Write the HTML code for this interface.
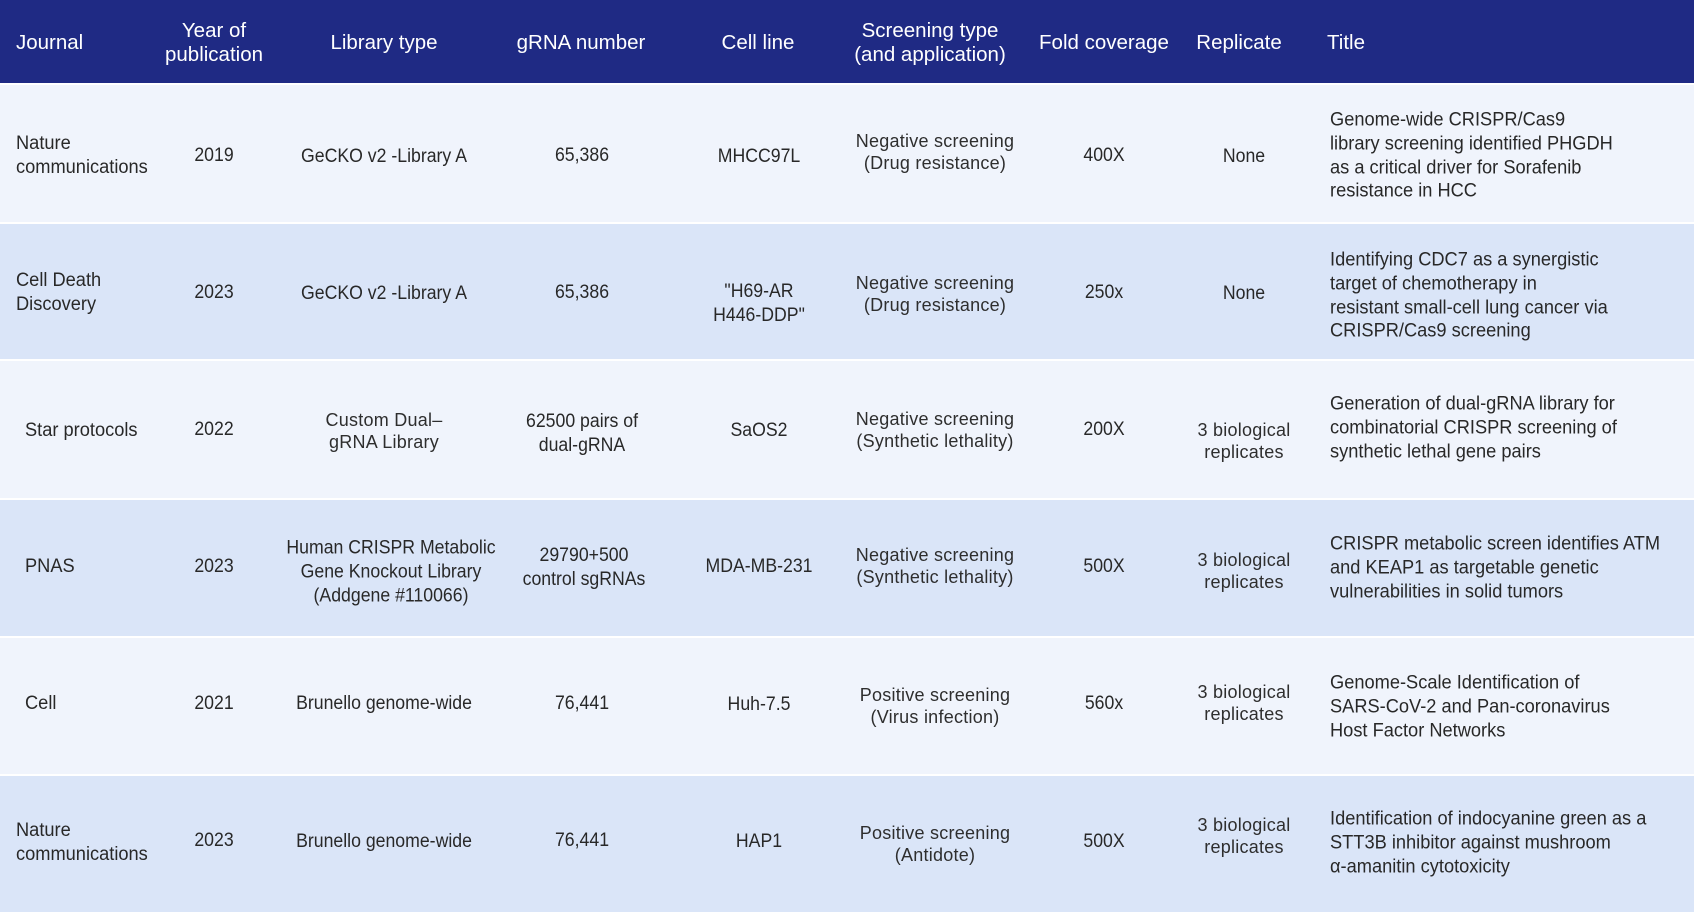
<!DOCTYPE html>
<html>
<head>
<meta charset="utf-8">
<style>
  html,body{margin:0;padding:0;background:#fff;}
  #wrap{position:relative;width:1694px;height:912px;overflow:hidden;background:#fff;font-family:"Liberation Sans",sans-serif;}
  .bg{position:absolute;left:0;width:1694px;}
  .hd{background:#1f2a84;top:0;height:83px;}
  .lt{background:#f0f4fc;}
  .dk{background:#dae5f8;}
  .t{position:absolute;white-space:nowrap;color:#282828;font-size:19px;line-height:23.8px;margin-top:1px;}
  .c{transform:translate(-50%,-50%) scaleX(.93);text-align:center;}
  .l{transform:translateY(-50%) scaleX(.96);transform-origin:0 50%;text-align:left;}
  .w{font-size:18px;line-height:21.8px;letter-spacing:.25px;color:#2e2e2e;}
  .c.w{transform:translate(-50%,-50%);}
  .h{color:#fff;font-size:20.5px;line-height:24px;}
  .c.h{transform:translate(-50%,-50%);}
  .l.h{transform:translateY(-50%);}
</style>
</head>
<body>
<div id="wrap">
  <div class="bg hd"></div>
  <div class="bg lt" style="top:85px;height:137px;"></div>
  <div class="bg dk" style="top:224px;height:135px;"></div>
  <div class="bg lt" style="top:361px;height:137px;"></div>
  <div class="bg dk" style="top:500px;height:136px;"></div>
  <div class="bg lt" style="top:638px;height:136px;"></div>
  <div class="bg dk" style="top:776px;height:136px;"></div>

  <!-- header -->
  <div class="t l h" style="left:16px;top:42px;">Journal</div>
  <div class="t c h" style="left:214px;top:42px;">Year of<br>publication</div>
  <div class="t c h" style="left:384px;top:42px;">Library type</div>
  <div class="t c h" style="left:581px;top:42px;">gRNA number</div>
  <div class="t c h" style="left:758px;top:42px;">Cell line</div>
  <div class="t c h" style="left:930px;top:42px;">Screening type<br>(and application)</div>
  <div class="t c h" style="left:1104px;top:42px;">Fold coverage</div>
  <div class="t c h" style="left:1239px;top:42px;">Replicate</div>
  <div class="t l h" style="left:1327px;top:42px;">Title</div>

  <!-- row 1 -->
  <div class="t l" style="left:16px;top:155px;">Nature<br>communications</div>
  <div class="t c" style="left:214px;top:155px;">2019</div>
  <div class="t c" style="left:384px;top:156px;">GeCKO v2 -Library A</div>
  <div class="t c" style="left:582px;top:155px;">65,386</div>
  <div class="t c" style="left:759px;top:156px;">MHCC97L</div>
  <div class="t c w" style="left:935px;top:152px;">Negative screening<br>(Drug resistance)</div>
  <div class="t c" style="left:1104px;top:155px;">400X</div>
  <div class="t c" style="left:1244px;top:156px;">None</div>
  <div class="t l" style="left:1330px;top:155px;">Genome-wide CRISPR/Cas9<br>library screening identified PHGDH<br>as a critical driver for Sorafenib<br>resistance in HCC</div>

  <!-- row 2 -->
  <div class="t l" style="left:16px;top:292px;">Cell Death<br>Discovery</div>
  <div class="t c" style="left:214px;top:292px;">2023</div>
  <div class="t c" style="left:384px;top:293px;">GeCKO v2 -Library A</div>
  <div class="t c" style="left:582px;top:292px;">65,386</div>
  <div class="t c" style="left:759px;top:303px;">"H69-AR<br>H446-DDP"</div>
  <div class="t c w" style="left:935px;top:294px;">Negative screening<br>(Drug resistance)</div>
  <div class="t c" style="left:1104px;top:292px;">250x</div>
  <div class="t c" style="left:1244px;top:293px;">None</div>
  <div class="t l" style="left:1330px;top:295px;">Identifying CDC7 as a synergistic<br>target of chemotherapy in<br>resistant small-cell lung cancer via<br>CRISPR/Cas9 screening</div>

  <!-- row 3 -->
  <div class="t l" style="left:25px;top:430px;">Star protocols</div>
  <div class="t c" style="left:214px;top:429px;">2022</div>
  <div class="t c w" style="left:384px;top:431px;">Custom Dual–<br>gRNA Library</div>
  <div class="t c" style="left:582px;top:433px;">62500 pairs of<br>dual-gRNA</div>
  <div class="t c" style="left:759px;top:430px;">SaOS2</div>
  <div class="t c w" style="left:935px;top:430px;">Negative screening<br>(Synthetic lethality)</div>
  <div class="t c" style="left:1104px;top:429px;">200X</div>
  <div class="t c w" style="left:1244px;top:441px;">3 biological<br>replicates</div>
  <div class="t l" style="left:1330px;top:427px;">Generation of dual-gRNA library for<br>combinatorial CRISPR screening of<br>synthetic lethal gene pairs</div>

  <!-- row 4 -->
  <div class="t l" style="left:25px;top:566px;">PNAS</div>
  <div class="t c" style="left:214px;top:566px;">2023</div>
  <div class="t c" style="left:391px;top:571px;">Human CRISPR Metabolic<br>Gene Knockout Library<br>(Addgene #110066)</div>
  <div class="t c" style="left:584px;top:567px;">29790+500<br>control sgRNAs</div>
  <div class="t c" style="left:759px;top:566px;">MDA-MB-231</div>
  <div class="t c w" style="left:935px;top:566px;">Negative screening<br>(Synthetic lethality)</div>
  <div class="t c" style="left:1104px;top:566px;">500X</div>
  <div class="t c w" style="left:1244px;top:571px;">3 biological<br>replicates</div>
  <div class="t l" style="left:1330px;top:567px;">CRISPR metabolic screen identifies ATM<br>and KEAP1 as targetable genetic<br>vulnerabilities in solid tumors</div>

  <!-- row 5 -->
  <div class="t l" style="left:25px;top:703px;">Cell</div>
  <div class="t c" style="left:214px;top:703px;">2021</div>
  <div class="t c" style="left:384px;top:703px;">Brunello genome-wide</div>
  <div class="t c" style="left:582px;top:703px;">76,441</div>
  <div class="t c" style="left:759px;top:704px;">Huh-7.5</div>
  <div class="t c w" style="left:935px;top:706px;">Positive screening<br>(Virus infection)</div>
  <div class="t c" style="left:1104px;top:703px;">560x</div>
  <div class="t c w" style="left:1244px;top:703px;">3 biological<br>replicates</div>
  <div class="t l" style="left:1330px;top:706px;">Genome-Scale Identification of<br>SARS-CoV-2 and Pan-coronavirus<br>Host Factor Networks</div>

  <!-- row 6 -->
  <div class="t l" style="left:16px;top:842px;">Nature<br>communications</div>
  <div class="t c" style="left:214px;top:840px;">2023</div>
  <div class="t c" style="left:384px;top:841px;">Brunello genome-wide</div>
  <div class="t c" style="left:582px;top:840px;">76,441</div>
  <div class="t c" style="left:759px;top:841px;">HAP1</div>
  <div class="t c w" style="left:935px;top:844px;">Positive screening<br>(Antidote)</div>
  <div class="t c" style="left:1104px;top:841px;">500X</div>
  <div class="t c w" style="left:1244px;top:836px;">3 biological<br>replicates</div>
  <div class="t l" style="left:1330px;top:842px;">Identification of indocyanine green as a<br>STT3B inhibitor against mushroom<br>α-amanitin cytotoxicity</div>
</div>
</body>
</html>
